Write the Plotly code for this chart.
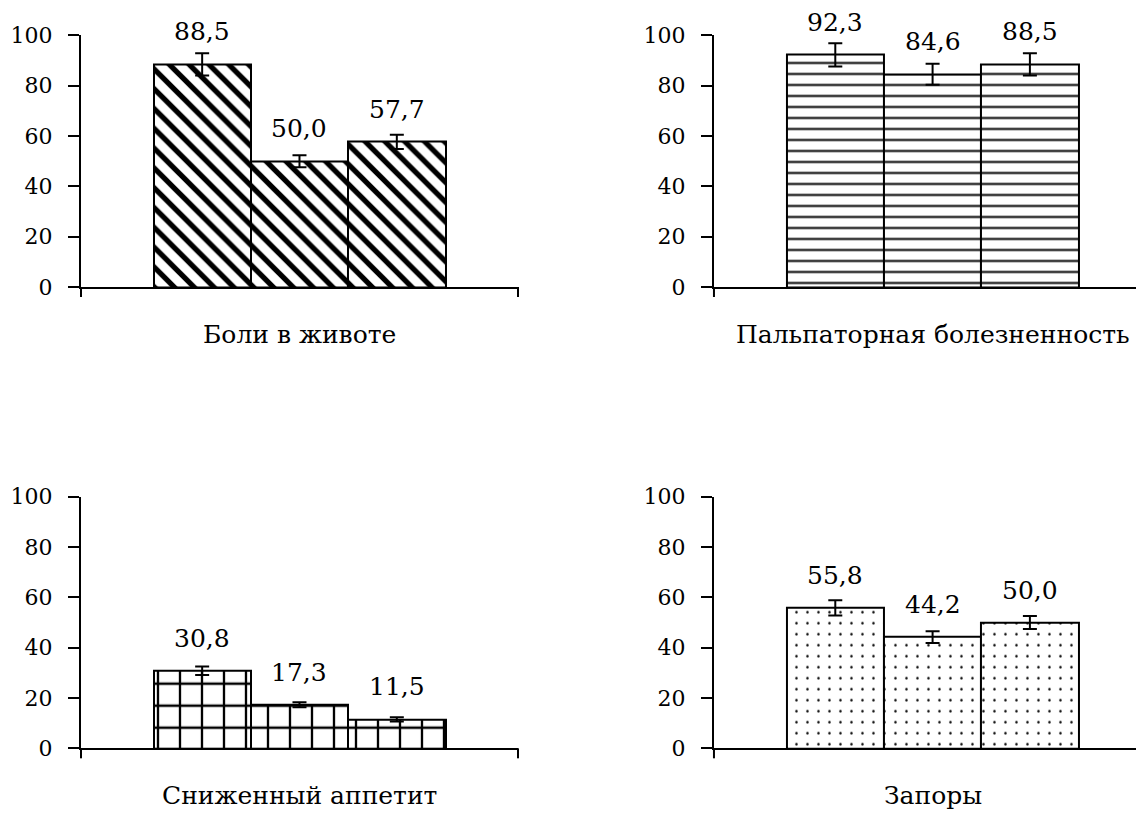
import plotly.graph_objects as go

# ---- data ----
groups = ["Группа 1", "Группа 2", "Группа 3"]
symptoms = ["Боли в животе", "Пальпаторная болезненность", "Сниженный аппетит", "Запоры"]

pain_vals = [88.5, 50.0, 57.7]
pain_err = [4.4, 2.4, 2.8]
palp_vals = [92.3, 84.6, 88.5]
palp_err = [4.6, 4.2, 4.4]
appetite_vals = [30.8, 17.3, 11.5]
appetite_err = [1.7, 1.0, 0.8]
constip_vals = [55.8, 44.2, 50.0]
constip_err = [3.0, 2.3, 2.6]

y_ticks = [0, 20, 40, 60, 80, 100]

series_vals = [pain_vals, palp_vals, appetite_vals, constip_vals]
series_err = [pain_err, palp_err, appetite_err, constip_err]

# ---- styles ----
FONT = "DejaVu Serif"
patterns = [
    dict(shape="\\", size=14, solidity=0.38),
    dict(shape="-", size=11, solidity=0.18),
    dict(shape="+", size=22, solidity=0.2),
    dict(shape=".", size=11, solidity=0.04),
]
x_domains = [[0.0638, 0.4458], [0.6171, 1.0], [0.0638, 0.4458], [0.6171, 1.0]]
y_domains = [[0.6568, 0.9662], [0.6568, 0.9662], [0.0894, 0.3989], [0.0894, 0.3989]]
x_ranges = [[-1.245, 3.245], [-1.247, 3.255], [-1.245, 3.245], [-1.247, 3.255]]
left_side = [True, False, True, False]

fig = go.Figure()
annotations = []
shapes = []

for i in range(4):
    n = "" if i == 0 else str(i + 1)
    xa, ya = "x" + n, "y" + n
    fig.add_trace(go.Bar(
        x=groups, y=series_vals[i], xaxis=xa, yaxis=ya,
        marker=dict(color="white", line=dict(color="black", width=2),
                    pattern=dict(fgcolor="black", bgcolor="white", fillmode="replace", **patterns[i])),
        error_y=dict(type="data", array=series_err[i], visible=True,
                     color="black", thickness=2, width=7),
        width=1.0, hoverinfo="skip",
    ))
    for g, v in zip(groups, series_vals[i]):
        annotations.append(dict(
            xref=xa, yref=ya, x=g, y=v, text=f"{v:.1f}".replace(".", ","),
            showarrow=False, yanchor="bottom", yshift=16,
            font=dict(family=FONT, size=25, color="black")))
    annotations.append(dict(
        xref=xa, yref=ya + " domain", x=groups[1], y=0, text=symptoms[i],
        showarrow=False, yanchor="middle", yshift=-47,
        font=dict(family=FONT, size=25, color="black")))
    ends = [0, 1] if left_side[i] else [0]
    for e in ends:
        shapes.append(dict(type="line", xref=xa + " domain", yref=ya + " domain",
                           x0=e, x1=e, ysizemode="pixel", yanchor=0, y0=0, y1=-10,
                           line=dict(color="black", width=2)))

    fig.layout[("xaxis" + n)] = dict(
        domain=x_domains[i], anchor=ya, type="category", range=x_ranges[i],
        showticklabels=False, ticks="", showline=True, linewidth=2, linecolor="black",
        showgrid=False, zeroline=False, fixedrange=True, automargin=False)
    fig.layout[("yaxis" + n)] = dict(
        domain=y_domains[i], anchor=xa, range=[0, 100], tickvals=y_ticks,
        ticks="outside", ticklen=11, tickwidth=2, tickcolor="black",
        showline=True, linewidth=2, linecolor="black", showgrid=False, zeroline=False,
        ticklabelstandoff=11, tickfont=dict(family=FONT, size=22, color="black"),
        fixedrange=True, automargin=False)

fig.update_layout(
    width=1144, height=813, margin=dict(l=0, r=0, t=0, b=0, autoexpand=False),
    paper_bgcolor="white", plot_bgcolor="white", showlegend=False,
    bargap=0, annotations=annotations, shapes=shapes,
)

fig.write_html("out.html")
